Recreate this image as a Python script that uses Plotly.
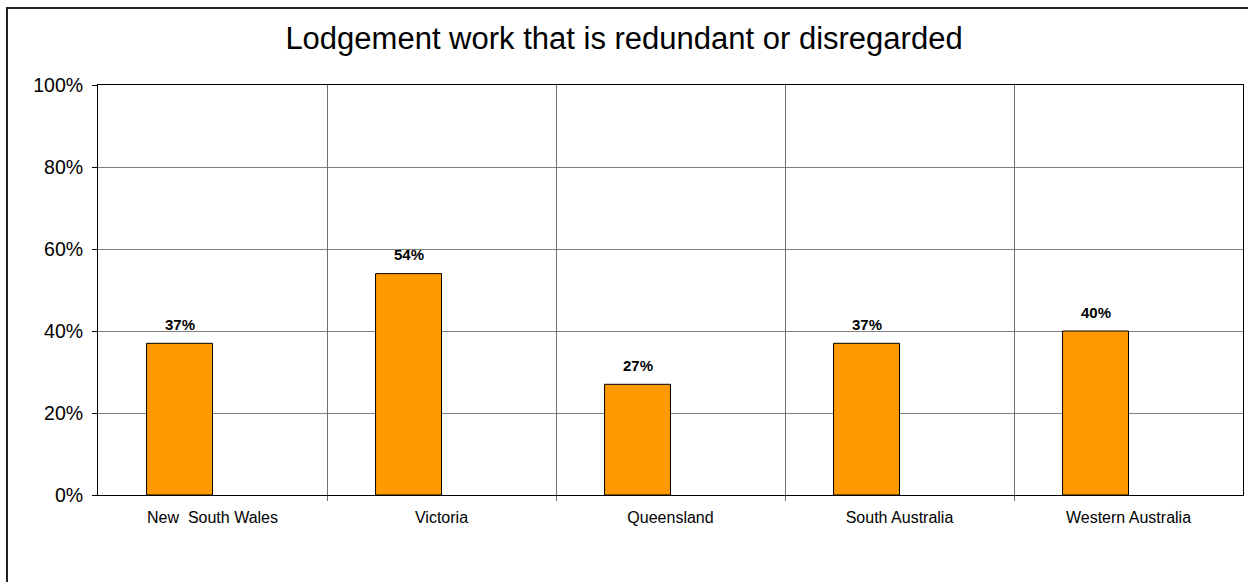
import plotly.graph_objects as go

categories = ["New  South Wales", "Victoria", "Queensland", "South Australia", "Western Australia"]
values = [0.37, 0.54, 0.27, 0.37, 0.40]
y_ticks = [0, 0.2, 0.4, 0.6, 0.8, 1.0]
y_tick_labels = ["0%", "20%", "40%", "60%", "80%", "100%"]
title_text = "Lodgement work that is redundant or disregarded"

BAR_W = 0.288
BAR_OFF = -0.288
FONT = "Arial, Liberation Sans, sans-serif"

fig = go.Figure()
fig.add_trace(go.Bar(
    x=list(range(len(categories))), y=values,
    width=BAR_W, offset=BAR_OFF,
    marker=dict(color="#FF9900", line=dict(color="#000000", width=1)),
    hoverinfo="y",
))

annotations = []
for i, v in enumerate(values):
    annotations.append(dict(
        x=i + BAR_OFF + BAR_W / 2, y=v, xref="x", yref="y",
        text="<b>%d%%</b>" % round(v * 100), showarrow=False,
        yanchor="middle", xanchor="center", yshift=19,
        font=dict(family=FONT, size=15, color="#000000"),
    ))

fig.update_layout(
    width=1248, height=582,
    margin=dict(l=98, r=5, t=85, b=87),
    paper_bgcolor="white", plot_bgcolor="white",
    showlegend=False,
    font=dict(family=FONT, color="#000000"),
    title=dict(text=title_text, x=0.5, xanchor="center", y=1 - 38 / 582, yanchor="middle",
               font=dict(family=FONT, size=31, color="#000000")),
    xaxis=dict(
        tickmode="array", tickvals=list(range(len(categories))), ticktext=categories,
        range=[-0.5, len(categories) - 0.5],
        showgrid=False, ticks="",
        showline=True, linecolor="#000000", linewidth=1, mirror=True,
        tickfont=dict(size=16), ticklabelstandoff=8, zeroline=False,
    ),
    xaxis2=dict(
        overlaying="x", matches="x", tickmode="array",
        tickvals=[i - 0.5 for i in range(1, len(categories))],
        showticklabels=False, showgrid=True, gridcolor="#707070", gridwidth=1,
        ticks="outside", ticklen=5, tickcolor="#707070", side="bottom",
        anchor="y", zeroline=False,
    ),
    yaxis=dict(
        range=[0, 1], tickvals=y_ticks, ticktext=y_tick_labels,
        showgrid=True, gridcolor="#808080", gridwidth=1,
        ticks="outside", ticklen=5, tickcolor="#000000",
        showline=True, linecolor="#000000", linewidth=1, mirror=True,
        tickfont=dict(size=19.5), ticklabelstandoff=5, zeroline=False,
    ),
    annotations=annotations,
    shapes=[dict(type="rect", xref="paper", yref="paper",
                 x0=(7 - 98) / 1145, x1=(1260 - 98) / 1145,
                 y0=(495 - 600) / 410, y1=(495 - 8) / 410,
                 line=dict(color="#222222", width=2), layer="below")],
)
# invisible trace to activate the boundary grid axis
fig.add_trace(go.Scatter(x=[0], y=[0], xaxis="x2", yaxis="y", mode="markers",
                         marker=dict(opacity=0), hoverinfo="skip", showlegend=False))

fig.write_html("out.html")
